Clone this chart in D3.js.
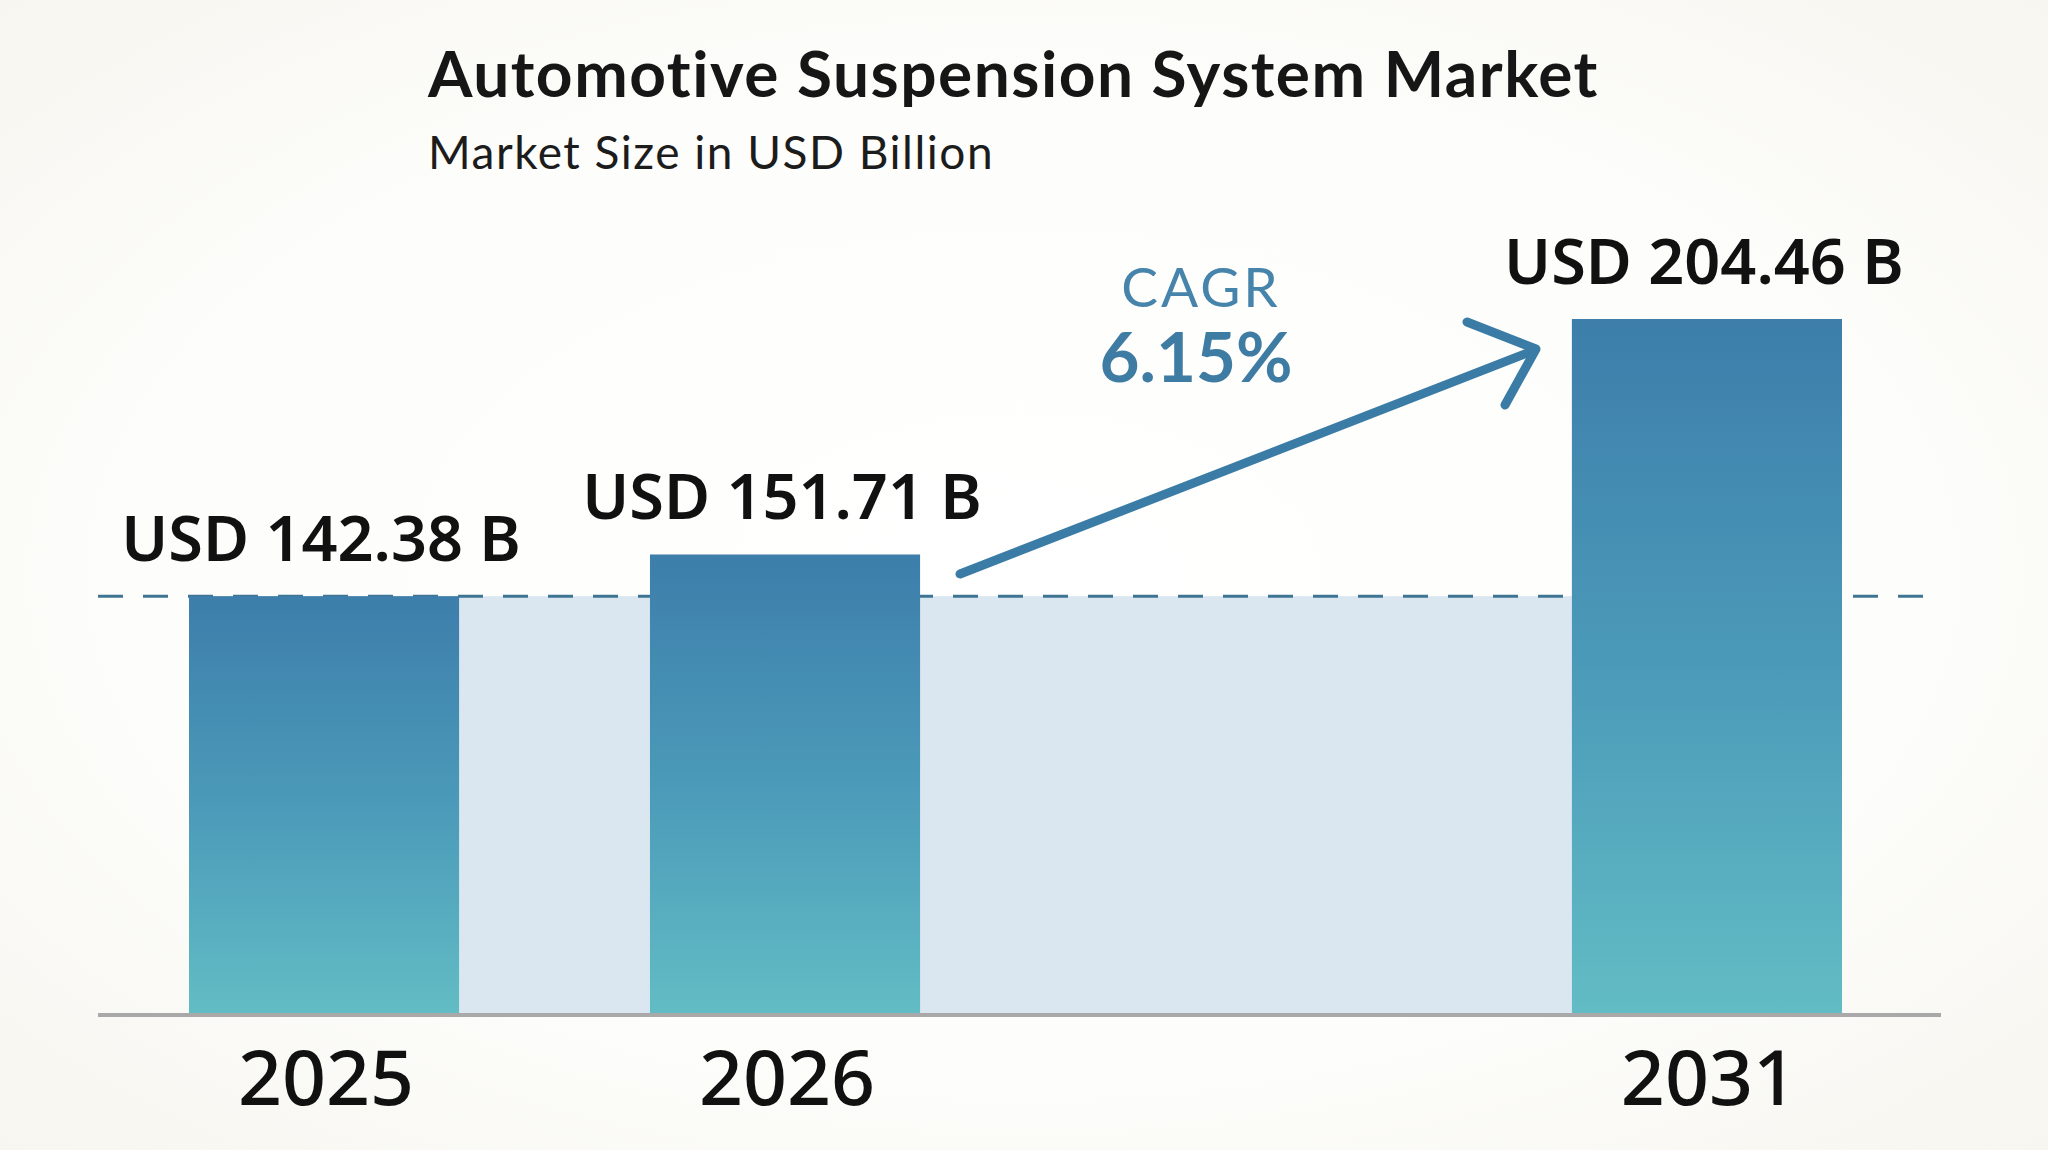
<!DOCTYPE html>
<html>
<head>
<meta charset="utf-8">
<script src="https://cdn.jsdelivr.net/npm/d3@7"></script>
<style>
  body { margin: 0; background: #fbfbf8; }
  svg { display: block; }
</style>
</head>
<body>
<div id="chart"></div>
<script>

var title = "Automotive Suspension System Market";
var subtitle = "Market Size in USD Billion";

var years = ["2025", "2026", "2031"];
var slots = [0, 1, 3];          // slot on the band scale, slot 2 stays empty
var values = [142.38, 151.71, 204.46];
var valueLabels = ["USD 142.38 B", "USD 151.71 B", "USD 204.46 B"];

var cagrLabel = "CAGR";
var cagrValue = "6.15%";


function chart(){

	var width = 2048, height = 1150;

	var svg = d3.select("#chart")
		.append("svg")
		.attr("width", width)
		.attr("height", height);

	var defs = svg.append("defs");

	var bg = defs.append("radialGradient")
		.attr("id", "bg")
		.attr("cx", "50%").attr("cy", "50%").attr("r", "70%");
	bg.append("stop").attr("offset", "0%").attr("stop-color", "#ffffff");
	bg.append("stop").attr("offset", "60%").attr("stop-color", "#fdfdfb");
	bg.append("stop").attr("offset", "100%").attr("stop-color", "#f7f6f0");

	var grad = defs.append("linearGradient")
		.attr("id", "barGrad")
		.attr("x1", 0).attr("y1", 0).attr("x2", 0).attr("y2", 1);
	grad.append("stop").attr("offset", "0%").attr("stop-color", "#3d7eab");
	grad.append("stop").attr("offset", "50%").attr("stop-color", "#4b9ab9");
	grad.append("stop").attr("offset", "100%").attr("stop-color", "#62bcc4");

	svg.append("rect")
		.attr("width", width)
		.attr("height", height)
		.attr("fill", "url(#bg)");

	var x = d3.scaleBand()
		.domain([0, 1, 2, 3])
		.range([189, 1842])
		.paddingInner(0.414);

	var y = d3.scaleLinear()
		.domain([49, d3.max(values)])
		.range([1013, 319]);

	var lineLeft = 98, lineRight = 1941;

	// light band between the first and the last bar, at the first value
	svg.append("rect")
		.attr("x", x(slots[0]) + x.bandwidth())
		.attr("y", y(values[0]))
		.attr("width", x(slots[2]) - x(slots[0]) - x.bandwidth())
		.attr("height", y.range()[0] - y(values[0]))
		.attr("fill", "#dae7f1");

	svg.append("line")
		.attr("x1", lineLeft)
		.attr("x2", lineRight)
		.attr("y1", y(values[0]))
		.attr("y2", y(values[0]))
		.attr("stroke", "#3f7493")
		.attr("stroke-width", 3)
		.attr("stroke-dasharray", "25,20");

	var data = years.map(function(d, i){
		return {year: d, slot: slots[i], value: values[i], label: valueLabels[i]};
	});

	svg.selectAll(".bar")
		.data(data)
		.enter().append("rect")
		.attr("class", "bar")
		.attr("x", function(d){ return x(d.slot); })
		.attr("y", function(d){ return y(d.value); })
		.attr("width", x.bandwidth())
		.attr("height", function(d){ return y.range()[0] - y(d.value); })
		.attr("fill", "url(#barGrad)");

	svg.selectAll(".value")
		.data(data)
		.enter().append("text")
		.attr("class", "value")
		.attr("x", function(d){ return x(d.slot) + x.bandwidth()/2 - 3; })
		.attr("y", function(d){ return y(d.value) - 35; })
		.attr("text-anchor", "middle")
		.style("font-family", "'Noto Sans', sans-serif")
		.style("font-weight", 600)
		.style("font-size", "63px")
		.attr("fill", "#111111")
		.text(function(d){ return d.label; });

	// baseline
	svg.append("line")
		.attr("x1", lineLeft)
		.attr("x2", lineRight)
		.attr("y1", 1015)
		.attr("y2", 1015)
		.attr("stroke", "#a9a9a9")
		.attr("stroke-width", 4);

	var xAxis = d3.axisBottom(x)
		.tickValues(slots)
		.tickSize(0)
		.tickFormat(function(d){ return years[slots.indexOf(d)]; });

	var gx = svg.append("g")
		.attr("transform", "translate(0,1013)")
		.call(xAxis);
	gx.select(".domain").remove();
	gx.selectAll("text")
		.attr("y", 92)
		.attr("dy", null)
		.attr("dx", 2)
		.style("font-family", "'Noto Sans', sans-serif")
		.style("font-weight", 500)
		.style("font-size", "77px")
		.attr("fill", "#111111");

	// growth arrow
	var arrow = svg.append("g")
		.attr("fill", "none")
		.attr("stroke", "#3a7ca5")
		.attr("stroke-width", 9)
		.attr("stroke-linecap", "round")
		.attr("stroke-linejoin", "round");
	arrow.append("line")
		.attr("x1", 960).attr("y1", 574)
		.attr("x2", 1535).attr("y2", 350);
	arrow.append("path")
		.attr("d", "M1467,322 L1536,349 L1505,405");

	svg.append("text")
		.attr("x", 1201)
		.attr("y", 307)
		.attr("text-anchor", "middle")
		.style("font-family", "Lato, sans-serif")
		.style("font-weight", 400)
		.style("font-size", "55px")
		.style("letter-spacing", "3px")
		.attr("fill", "#4684ab")
		.text(cagrLabel);

	svg.append("text")
		.attr("x", 1196)
		.attr("y", 382)
		.attr("text-anchor", "middle")
		.style("font-family", "Lato, sans-serif")
		.style("font-weight", 700)
		.style("font-size", "69px")
		.attr("fill", "#3f7ca3")
		.text(cagrValue);

	svg.append("text")
		.attr("x", 428)
		.attr("y", 97)
		.style("font-family", "Lato, sans-serif")
		.style("font-weight", 700)
		.style("font-size", "64px")
		.style("letter-spacing", "1.5px")
		.attr("fill", "#161616")
		.text(title);

	svg.append("text")
		.attr("x", 428)
		.attr("y", 169)
		.style("font-family", "Lato, sans-serif")
		.style("font-weight", 400)
		.style("font-size", "46px")
		.style("letter-spacing", "1.5px")
		.attr("fill", "#1c1c1c")
		.text(subtitle);
}

chart();

</script>
</body>
</html>
